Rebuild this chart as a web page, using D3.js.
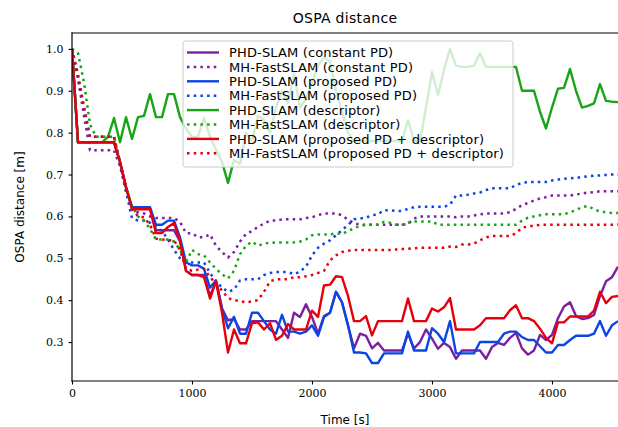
<!DOCTYPE html>
<html>
<head>
<meta charset="utf-8">
<script src="https://cdn.jsdelivr.net/npm/d3@7"></script>
<style>
    body { margin: 0; background: #fff; }
</style>
</head>
<body>
<div id="grafico"></div>
<script>

// Time axis (s), one sample every 50 s
const tempos = [
    0, 50, 100, 150, 200, 250, 300, 350, 400, 450,
    500, 550, 600, 650, 700, 750, 800, 850, 900, 950,
    1000, 1050, 1100, 1150, 1200, 1250, 1300, 1350, 1400, 1450,
    1500, 1550, 1600, 1650, 1700, 1750, 1800, 1850, 1900, 1950,
    2000, 2050, 2100, 2150, 2200, 2250, 2300, 2350, 2400, 2450,
    2500, 2550, 2600, 2650, 2700, 2750, 2800, 2850, 2900, 2950,
    3000, 3050, 3100, 3150, 3200, 3250, 3300, 3350, 3400, 3450,
    3500, 3550, 3600, 3650, 3700, 3750, 3800, 3850, 3900, 3950,
    4000, 4050, 4100, 4150, 4200, 4250, 4300, 4350, 4400, 4450,
    4500, 4550
]

// PHD-SLAM (constant PD)
const phdConstante = [
    1.0, 0.777, 0.777, 0.777, 0.777, 0.777, 0.777, 0.777, 0.73, 0.67,
    0.62, 0.62, 0.62, 0.62, 0.567, 0.567, 0.567, 0.567, 0.54, 0.47,
    0.46, 0.46, 0.46, 0.41, 0.445, 0.38, 0.352, 0.355, 0.33, 0.33,
    0.35, 0.35, 0.35, 0.35, 0.35, 0.33, 0.31, 0.37, 0.36, 0.39,
    0.36, 0.32, 0.362, 0.37, 0.42, 0.395, 0.34, 0.285, 0.32, 0.315,
    0.285, 0.298, 0.28, 0.28, 0.28, 0.28, 0.32, 0.285, 0.30, 0.33,
    0.308, 0.284, 0.298, 0.288, 0.26, 0.28, 0.28, 0.28, 0.28, 0.26,
    0.288, 0.298, 0.293, 0.31, 0.322, 0.285, 0.27, 0.28, 0.317, 0.305,
    0.317, 0.357, 0.385, 0.395, 0.362, 0.355, 0.357, 0.365, 0.41, 0.445,
    0.455, 0.48
]

// MH-FastSLAM (constant PD)
const mhConstante = [
    1.0, 0.93, 0.84, 0.758, 0.758, 0.758, 0.758, 0.758, 0.72, 0.66,
    0.615, 0.61, 0.607, 0.60, 0.596, 0.596, 0.596, 0.596, 0.587, 0.56,
    0.56, 0.55, 0.55, 0.557, 0.53, 0.515, 0.502, 0.515, 0.54, 0.558,
    0.565, 0.575, 0.583, 0.59, 0.59, 0.593, 0.593, 0.593, 0.593, 0.596,
    0.598, 0.603, 0.607, 0.607, 0.607, 0.603, 0.592, 0.584, 0.58, 0.58,
    0.58, 0.58, 0.58, 0.58, 0.58, 0.58, 0.582, 0.595, 0.60, 0.60,
    0.60, 0.60, 0.60, 0.60, 0.598, 0.60, 0.60, 0.602, 0.605, 0.607,
    0.607, 0.607, 0.607, 0.61, 0.618, 0.627, 0.632, 0.638, 0.643, 0.646,
    0.65, 0.65, 0.65, 0.65, 0.652, 0.655, 0.657, 0.658, 0.66, 0.66,
    0.66, 0.66
]

// PHD-SLAM (proposed PD)
const phdProposto = [
    1.0, 0.777, 0.777, 0.777, 0.777, 0.777, 0.777, 0.777, 0.73, 0.67,
    0.622, 0.622, 0.622, 0.622, 0.58, 0.58, 0.59, 0.59, 0.55, 0.49,
    0.483, 0.483, 0.475, 0.43, 0.447, 0.38, 0.333, 0.36, 0.32, 0.32,
    0.37, 0.37, 0.35, 0.33, 0.32, 0.365, 0.325, 0.325, 0.32, 0.325,
    0.34, 0.315, 0.36, 0.37, 0.42, 0.395, 0.34, 0.275, 0.275, 0.273,
    0.25, 0.25, 0.273, 0.273, 0.273, 0.273, 0.325, 0.28, 0.28, 0.28,
    0.333, 0.32, 0.30, 0.35, 0.273, 0.273, 0.273, 0.273, 0.30, 0.30,
    0.30, 0.30, 0.32, 0.325, 0.325, 0.312, 0.305, 0.305, 0.29, 0.275,
    0.275, 0.293, 0.293, 0.305, 0.315, 0.315, 0.315, 0.32, 0.35, 0.315,
    0.34, 0.35
]

// MH-FastSLAM (proposed PD)
const mhProposto = [
    1.0, 0.93, 0.86, 0.79, 0.79, 0.79, 0.79, 0.79, 0.73, 0.66,
    0.596, 0.59, 0.59, 0.585, 0.575, 0.565, 0.545, 0.52, 0.50, 0.495,
    0.49, 0.49, 0.49, 0.465, 0.445, 0.43, 0.42, 0.425, 0.447, 0.45,
    0.45, 0.45, 0.46, 0.465, 0.467, 0.467, 0.467, 0.462, 0.468, 0.48,
    0.507, 0.525, 0.535, 0.543, 0.555, 0.567, 0.58, 0.593, 0.595, 0.597,
    0.603, 0.605, 0.615, 0.615, 0.613, 0.613, 0.618, 0.622, 0.623, 0.623,
    0.623, 0.623, 0.623, 0.628, 0.65, 0.65, 0.652, 0.655, 0.657, 0.663,
    0.667, 0.667, 0.667, 0.667, 0.675, 0.68, 0.682, 0.682, 0.682, 0.682,
    0.686, 0.688, 0.69, 0.691, 0.692, 0.694, 0.696, 0.697, 0.698, 0.699,
    0.70, 0.70
]

// PHD-SLAM (descriptor)
const phdDescritor = [
    1.0, 0.777, 0.777, 0.777, 0.777, 0.777, 0.79, 0.835, 0.777, 0.837,
    0.785, 0.837, 0.84, 0.892, 0.837, 0.837, 0.892, 0.892, 0.837, 0.81,
    0.79, 0.79, 0.835, 0.79, 0.76, 0.73, 0.68, 0.735, 0.725, 0.80,
    0.78, 0.84, 0.83, 0.80, 0.86, 0.90, 0.87, 0.94, 0.86, 0.88,
    0.92, 0.96, 0.98, 0.97, 0.90, 0.85, 0.80, 0.78, 0.78, 0.78,
    0.78, 0.78, 0.78, 0.78, 0.78, 0.78, 0.83, 0.78, 0.78, 0.86,
    0.945, 0.89, 0.95, 1.0, 0.96, 0.957, 0.957, 0.96, 0.99, 0.957,
    0.957, 0.957, 0.957, 0.957, 0.957, 0.90, 0.90, 0.90, 0.85, 0.81,
    0.86, 0.905, 0.907, 0.952, 0.90, 0.86, 0.864, 0.87, 0.916, 0.876,
    0.874, 0.873
]

// MH-FastSLAM (descriptor)
const mhDescritor = [
    1.0, 0.99, 0.92, 0.82, 0.79, 0.79, 0.79, 0.79, 0.73, 0.67,
    0.625, 0.60, 0.59, 0.57, 0.545, 0.545, 0.545, 0.54, 0.52, 0.49,
    0.52, 0.51, 0.507, 0.49, 0.475, 0.462, 0.452, 0.47, 0.51, 0.53,
    0.54, 0.53, 0.535, 0.537, 0.538, 0.538, 0.538, 0.538, 0.54, 0.545,
    0.555, 0.557, 0.557, 0.557, 0.56, 0.558, 0.565, 0.572, 0.577, 0.58,
    0.58, 0.58, 0.587, 0.585, 0.58, 0.58, 0.585, 0.588, 0.588, 0.588,
    0.588, 0.58, 0.58, 0.58, 0.58, 0.58, 0.58, 0.58, 0.58, 0.58,
    0.58, 0.58, 0.58, 0.58, 0.58, 0.59, 0.597, 0.60, 0.603, 0.605,
    0.605, 0.605, 0.605, 0.61, 0.615, 0.622, 0.625, 0.617, 0.612, 0.61,
    0.608, 0.608
]

// PHD-SLAM (proposed PD + descriptor)
const phdPropostoDescritor = [
    1.0, 0.777, 0.777, 0.777, 0.777, 0.777, 0.777, 0.777, 0.73, 0.67,
    0.617, 0.617, 0.617, 0.617, 0.56, 0.56, 0.575, 0.584, 0.543, 0.47,
    0.46, 0.46, 0.455, 0.404, 0.445, 0.37, 0.275, 0.33, 0.297, 0.297,
    0.345, 0.347, 0.33, 0.345, 0.305, 0.315, 0.343, 0.33, 0.33, 0.33,
    0.375, 0.36, 0.435, 0.437, 0.457, 0.455, 0.41, 0.35, 0.35, 0.362,
    0.316, 0.35, 0.35, 0.35, 0.35, 0.35, 0.404, 0.35, 0.35, 0.35,
    0.38, 0.373, 0.383, 0.405, 0.33, 0.33, 0.33, 0.33, 0.34, 0.357,
    0.357, 0.357, 0.357, 0.376, 0.388, 0.357, 0.357, 0.35, 0.332, 0.31,
    0.297, 0.347, 0.347, 0.361, 0.361, 0.361, 0.361, 0.375, 0.42, 0.393,
    0.408, 0.41
]

// MH-FastSLAM (proposed PD + descriptor)
const mhPropostoDescritor = [
    1.0, 0.94, 0.86, 0.79, 0.79, 0.79, 0.79, 0.79, 0.73, 0.67,
    0.62, 0.60, 0.598, 0.58, 0.547, 0.545, 0.543, 0.543, 0.52, 0.475,
    0.47, 0.473, 0.475, 0.455, 0.44, 0.423, 0.405, 0.40, 0.398, 0.395,
    0.397, 0.40, 0.42, 0.445, 0.45, 0.45, 0.45, 0.455, 0.455, 0.457,
    0.46, 0.465, 0.47, 0.495, 0.507, 0.515, 0.518, 0.52, 0.52, 0.52,
    0.52, 0.52, 0.52, 0.52, 0.521, 0.522, 0.523, 0.524, 0.525, 0.525,
    0.525, 0.525, 0.525, 0.528, 0.527, 0.533, 0.533, 0.535, 0.543, 0.55,
    0.553, 0.553, 0.553, 0.553, 0.56, 0.573, 0.576, 0.578, 0.58, 0.58,
    0.58, 0.58, 0.58, 0.58, 0.58, 0.58, 0.58, 0.58, 0.58, 0.58,
    0.58, 0.581
]

const rotulos = [
    'PHD-SLAM (constant PD)',
    'MH-FastSLAM (constant PD)',
    'PHD-SLAM (proposed PD)',
    'MH-FastSLAM (proposed PD)',
    'PHD-SLAM (descriptor)',
    'MH-FastSLAM (descriptor)',
    'PHD-SLAM (proposed PD + descriptor)',
    'MH-FastSLAM (proposed PD + descriptor)'
]

const ticksX = [0, 1000, 2000, 3000, 4000]
const ticksY = [0.3, 0.4, 0.5, 0.6, 0.7, 0.8, 0.9, 1.0]

const cores = {
    roxo: '#7b1fa2',
    azul: '#0a45e6',
    verde: '#17a517',
    vermelho: '#e5000b'
}

const series = [
    { valores: phdConstante, cor: cores.roxo, pontilhado: false },
    { valores: mhConstante, cor: cores.roxo, pontilhado: true },
    { valores: phdProposto, cor: cores.azul, pontilhado: false },
    { valores: mhProposto, cor: cores.azul, pontilhado: true },
    { valores: phdDescritor, cor: cores.verde, pontilhado: false },
    { valores: mhDescritor, cor: cores.verde, pontilhado: true },
    { valores: phdPropostoDescritor, cor: cores.vermelho, pontilhado: false },
    { valores: mhPropostoDescritor, cor: cores.vermelho, pontilhado: true }
]

// Chart settings
const largura = 618
const altura = 427
const area = { left: 72, right: 618, top: 33, bottom: 381 }

const fonteSans = "'DejaVu Sans', sans-serif"
const fonteSerif = "'DejaVu Serif', serif"

const svg = d3.select('#grafico').append('svg')
    .attr('width', largura)
    .attr('height', altura)

const x = d3.scaleLinear().domain([0, 4550]).range([area.left, area.right])
const y = d3.scaleLinear().domain([0.207, 1.038]).range([area.bottom, area.top])

svg.append('defs').append('clipPath').attr('id', 'recorte')
    .append('rect')
    .attr('x', area.left).attr('y', area.top)
    .attr('width', area.right - area.left)
    .attr('height', area.bottom - area.top)

const linha = d3.line()
    .x((d, i) => x(tempos[i]))
    .y(d => y(d))

const estilo = (sel, s) => sel
    .attr('fill', 'none')
    .attr('stroke', s.cor)
    .attr('stroke-width', s.pontilhado ? 2.5 : 2.4)
    .attr('stroke-dasharray', s.pontilhado ? '2.5,4.2' : null)
    .attr('stroke-linejoin', 'round')

// Lines
const grupo = svg.append('g').attr('clip-path', 'url(#recorte)')
series.forEach(s => {
    grupo.append('path')
        .datum(s.valores)
        .attr('d', linha)
        .call(estilo, s)
})

// Axes
svg.append('g')
    .attr('transform', `translate(0, ${area.bottom})`)
    .call(d3.axisBottom(x).tickValues(ticksX).tickSize(3.5).tickPadding(5).tickFormat(d3.format('d')))
    .call(g => g.select('.domain').remove())
    .call(g => g.selectAll('text').attr('font-family', fonteSerif).attr('font-size', 11).attr('fill', '#000'))
    .call(g => g.selectAll('line').attr('stroke', '#000').attr('stroke-width', 1.1))

svg.append('g')
    .attr('transform', `translate(${area.left}, 0)`)
    .call(d3.axisLeft(y).tickValues(ticksY).tickSize(3.5).tickPadding(5).tickFormat(d3.format('.1f')))
    .call(g => g.select('.domain').remove())
    .call(g => g.selectAll('text').attr('font-family', fonteSerif).attr('font-size', 11).attr('fill', '#000'))
    .call(g => g.selectAll('line').attr('stroke', '#000').attr('stroke-width', 1.1))

// Spines (left, bottom, top)
const bordas = [
    [area.left, area.top, area.left, area.bottom],
    [area.left, area.bottom, area.right, area.bottom],
    [area.left, area.top, area.right, area.top]
]
bordas.forEach(b => {
    svg.append('line')
        .attr('x1', b[0]).attr('y1', b[1]).attr('x2', b[2]).attr('y2', b[3])
        .attr('stroke', '#000').attr('stroke-width', 1.2)
        .attr('stroke-linecap', 'square')
})

// Titles
svg.append('text')
    .attr('x', (area.left + area.right) / 2).attr('y', 23)
    .attr('text-anchor', 'middle')
    .attr('font-family', fonteSans).attr('font-size', 14)
    .attr('letter-spacing', 0.3)
    .text('OSPA distance')

svg.append('text')
    .attr('x', (area.left + area.right) / 2).attr('y', 424)
    .attr('text-anchor', 'middle')
    .attr('font-family', fonteSans).attr('font-size', 12)
    .text('Time [s]')

svg.append('text')
    .attr('transform', `translate(24, ${(area.top + area.bottom) / 2}) rotate(-90)`)
    .attr('text-anchor', 'middle')
    .attr('font-family', fonteSans).attr('font-size', 12)
    .text('OSPA distance [m]')

// Legend
const legenda = svg.append('g')
legenda.append('rect')
    .attr('x', 183).attr('y', 41)
    .attr('width', 330).attr('height', 126)
    .attr('rx', 2.5)
    .attr('fill', '#fff').attr('fill-opacity', 0.8)
    .attr('stroke', '#cccccc').attr('stroke-width', 1)

series.forEach((s, i) => {
    const yy = 52.5 + i * 14.4
    legenda.append('line')
        .attr('x1', 187).attr('x2', 219)
        .attr('y1', yy).attr('y2', yy)
        .call(estilo, s)
    legenda.append('text')
        .attr('x', 229).attr('y', yy + 4.6)
        .attr('font-family', fonteSans).attr('font-size', 13)
        .attr('letter-spacing', 0.15)
        .text(rotulos[i])
})

</script>
</body>
</html>
